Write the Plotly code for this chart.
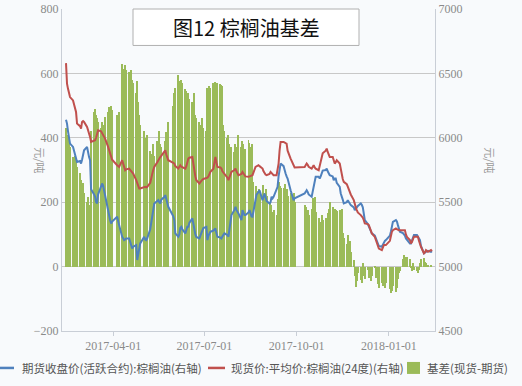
import pandas as pd
import plotly.graph_objects as go

# trading days (Mon-Fri); None = exchange holiday
dates = pd.bdate_range("2017-02-13", "2018-02-13")

futures = [
    6141, 6110, 6050, 5990, 5955,
    5929, 5900, 5870, 5840, 5813,
    5820, 5800, 5830, 5870, 5903,
    5929, 5880, 5850, 5826, 5600,
    5560, 5542, 5500, 5490, 5560,
    5619, 5645, 5630, 5590, 5542,
    5413, 5390, 5360, 5335, 5350,
    None, None, 5387, 5350, 5322,
    5232, 5220, 5206, 5210, 5219,
    5219, 5190, 5160, 5141, 5155,
    5167, 5051, 5100, 5150, 5180,
    None, 5232, 5210, 5206, 5220,
    5290, 5348, 5400, 5450, 5490,
    5510, 5516, 5500, 5490, 5520,
    5540, 5555, 5520, 5490, 5464,
    None, None, 5390, 5361, 5258,
    5232, 5250, 5300, 5309, 5290,
    5258, 5280, 5309, 5309, 5340,
    5374, 5330, 5283, 5250, 5230,
    5219, 5240, 5258, 5280, 5300,
    5309, 5206, 5240, 5260, 5271,
    5280, 5290, 5296, 5260, 5232,
    5225, 5219, 5235, 5250, 5258,
    5245, 5232, 5290, 5350, 5400,
    5440, 5464, 5440, 5420, 5413,
    5361, 5439, 5420, 5400, 5400,
    5420, 5439, 5410, 5390, 5387,
    5542, 5560, 5568, 5580, 5593,
    5516, 5540, 5568, 5540, 5510,
    5490, 5500, 5542, 5530, 5542,
    5600, 5619, 5700, 5750, 5800,
    5780, 5740, 5723, 5700, 5684,
    5593, 5560, 5540, 5516, 5530,
    None, None, None, None, None,
    5568, 5580, 5593, 5580, 5560,
    5542, 5580, 5619, 5650, 5697,
    5697, 5684, 5700, 5735, 5745,
    5750, 5761, 5740, 5720, 5710,
    5700, 5671, 5684, 5684, 5650,
    5619, 5568, 5550, 5520, 5490,
    5500, 5516, 5500, 5490, 5477,
    5460, 5439, 5450, 5464, 5470,
    5490, 5480, 5460, 5400, 5361,
    5330, 5309, 5290, 5270, 5258,
    5240, 5219, 5210, 5180, 5160,
    5154, 5170, 5193, 5200, 5206,
    None, 5240, 5271, 5320, 5348,
    5361, 5350, 5322, 5300, 5271,
    5260, 5250, 5240, 5219, 5210,
    5180, 5180, 5206, 5230, 5245,
    5245, 5230, 5210, 5206, 5160,
    5103, 5110, 5115, 5120, 5123,
    5115, 5120,
]

spot = [
    6580, 6420, 6380, 6340, 6316,
    6290, 6260, 6230, 6200, 6110,
    6090, 6071, 6123, 6130, 6123,
    6084, 6060, 6030, 6006, 5968,
    5975, 5981, 6000, 6040, 6058,
    6050, 6033, 6020, 6000, 5994,
    5929, 5900, 5870, 5851, 5830,
    None, None, 5787, 5780, 5774,
    5826, 5800, 5770, 5748, 5755,
    5761, 5750, 5740, 5730, 5723,
    5671, 5650, 5630, 5607, 5607,
    None, 5619, 5619, 5615, 5619,
    5650, 5697, 5720, 5750, 5774,
    5810, 5826, 5840, 5851, 5860,
    5890, 5903, 5870, 5840, 5826,
    None, None, 5805, 5800, 5780,
    5761, 5775, 5787, 5775, 5770,
    5761, 5780, 5810, 5839, 5845,
    5851, 5800, 5735, 5700, 5670,
    5645, 5655, 5671, 5675, 5680,
    5684, 5690, 5700, 5720, 5735,
    5760, 5800, 5851, 5810, 5774,
    5770, 5761, 5740, 5730, 5723,
    5690, 5671, 5690, 5710, 5735,
    5750, 5761, 5740, 5720, 5710,
    5720, 5735, 5723, 5710, 5700,
    5697, 5700, 5705, 5710, 5710,
    5774, 5780, 5787, 5787, 5780,
    5761, 5740, 5723, 5715, 5710,
    5720, 5735, 5725, 5715, 5710,
    5710, 5748, 5800, 5900, 5968,
    5968, 5960, 5958, 5955, 5900,
    5839, 5820, 5813, 5790, 5770,
    None, None, None, None, None,
    5774, 5790, 5800, 5790, 5775,
    5761, 5770, 5787, 5770, 5760,
    5748, 5780, 5830, 5864, 5880,
    5900, 5916, 5890, 5860, 5851,
    5851, 5820, 5800, 5810, 5826,
    5800, 5748, 5720, 5680, 5658,
    5640, 5620, 5600, 5593, 5560,
    5516, 5480, 5460, 5439, 5420,
    5400, 5390, 5380, 5360, 5335,
    5330, 5322, 5300, 5270, 5258,
    5230, 5206, 5190, 5160, 5140,
    5128, 5150, 5167, 5167, 5167,
    None, 5200, 5245, 5270, 5283,
    5296, 5290, 5283, 5283, 5283,
    5283, 5283, 5283, 5250, 5230,
    5206, 5180, 5190, 5210, 5232,
    5232, 5232, 5200, 5170, 5154,
    5103, 5110, 5128, 5120, 5115,
    5128, 5120,
]

basis = [
    430, 410, 380, 400, 370,
    340, 330, 345, 325, 310,
    290, 270, 250, 260, 230,
    200, 215, 185, 190, 420,
    480, 490, 470, 460, 448,
    430, 450, 420, 440, 465,
    480, 495, 470, 500, 485,
    None, None, 470, 460, 480,
    630, 615, 600, 625, 610,
    605, 590, 610, 580, 570,
    540, 575, 510, 470, 440,
    None, 420, 400, 380, 410,
    360, 350, 336, 380, 345,
    390, 360, 420, 380, 370,
    350, 390, 417, 400, 450,
    None, None, 500, 540, 555,
    594, 575, 560, 580, 570,
    553, 545, 530, 540, 520,
    510, 480, 540, 470, 460,
    450, 420, 440, 460, 430,
    420, 556, 553, 560, 555,
    570, 565, 572, 563, 570,
    568, 565, 560, 440, 420,
    400, 410, 380, 360, 370,
    355, 380, 360, 370, 410,
    370, 390, 380, 355, 365,
    392, 385, 370, 380, 262,
    250, 235, 222, 240, 230,
    253, 230, 213, 240, 220,
    200, 190, 170, 150, 175,
    160, 210, 262, 250, 243,
    245, 255, 235, 240, 220,
    230, 215, 205, 230, 200,
    None, None, None, None, None,
    190, 185, 170, 175, 160,
    180, 212, 200, 216, 170,
    150, 140, 129, 160, 145,
    150, 135, 165, 180, 200,
    185, 170, 180, 175, 172,
    175, 165, 180, 104, 90,
    70, 98, 57, 80, 45,
    20, -30, -63, -45, -20,
    -42, -51, 11, -30, -40,
    -10, -35, -20, -45, -30,
    -4, -35, -26, -55, -66,
    -50, -60, -40, -66, -51,
    None, -70, -82, -75, -60,
    -78, -66, -40, -20, -15,
    25, 35, 30, 20, 30,
    25, -5, -15, 10, -10,
    -15, -20, -10, 10, 25,
    27, 15, 10, 5, 3,
    5, 0,
]

x_ticks = ["2017-04-01", "2017-07-01", "2017-10-01", "2018-01-01"]
legend_names = ["期货收盘价(活跃合约):棕榈油(右轴)", "现货价:平均价:棕榈油(24度)(右轴)", "基差(现货-期货)"]
title_text = "图12 棕榈油基差"

BLUE = "#4f81bd"
RED = "#c0504d"
GREEN = "#9bbb59"

fig = go.Figure()
fig.add_trace(go.Bar(x=dates, y=basis, marker=dict(color=GREEN, line=dict(width=0)),
                     name=legend_names[2], showlegend=False, yaxis="y"))
fig.add_trace(go.Scatter(x=dates, y=futures, mode="lines", line=dict(color=BLUE, width=2),
                         connectgaps=True, name=legend_names[0], showlegend=False, yaxis="y2"))
fig.add_trace(go.Scatter(x=dates, y=spot, mode="lines", line=dict(color=RED, width=2),
                         connectgaps=True, name=legend_names[1], showlegend=False, yaxis="y2"))

W, H = 522, 386
L, R, T, B = 62, 435, 8.5, 331
def px(x):
    return (x - L) / (R - L)
def py(y):
    return (B - y) / (B - T)

tickfont = dict(family="Liberation Serif, DejaVu Serif, serif", size=12, color="#8a8a8a")
fig.update_layout(
    width=W, height=H,
    margin=dict(l=L, r=W - R, t=T, b=H - B, autoexpand=False),
    paper_bgcolor="#f8fafc", plot_bgcolor="#f8fafc",
    bargap=0,
    showlegend=False,
    xaxis=dict(type="date", range=["2017-02-09", "2018-02-16"], automargin=False,
               tickvals=x_ticks, ticktext=x_ticks, tickfont=tickfont,
               showgrid=False, showline=True, linecolor="#c9ced6", linewidth=1,
               ticks="outside", ticklen=4, tickcolor="#c9ced6", zeroline=False),
    yaxis=dict(range=[-200, 800], dtick=200, tickfont=tickfont, automargin=False,
               showgrid=True, gridcolor="#c8c8c8", gridwidth=1,
               showline=True, linecolor="#c9ced6", zeroline=False, ticks=""),
    yaxis2=dict(range=[4500, 7000], dtick=500, tickfont=tickfont, overlaying="y", side="right",
                automargin=False,
                showgrid=False, showline=True, linecolor="#c9ced6", zeroline=False, ticks=""),
    font=dict(family="Noto Sans CJK SC"),
)

shapes = []
annotations = []
# title box
shapes.append(dict(type="rect", xref="paper", yref="paper", x0=px(133), x1=px(359), y0=py(45), y1=py(8.5),
                   fillcolor="#ffffff", line=dict(color="#b0b0b0", width=1), layer="above"))
annotations.append(dict(text=title_text, xref="paper", yref="paper", x=px(246), y=py(27), showarrow=False,
                        xanchor="center", yanchor="middle",
                        font=dict(family="Noto Sans CJK SC", size=20, color="#111111")))
# axis unit labels
for xx in (40, 490):
    annotations.append(dict(text="元/吨", xref="paper", yref="paper", x=px(xx), y=py(160), showarrow=False,
                            textangle=90, xanchor="center", yanchor="middle",
                            font=dict(family="Noto Sans CJK SC", size=11, color="#999999")))
# legend
ly = py(368)
shapes.append(dict(type="line", xref="paper", yref="paper", x0=px(-2), x1=px(14), y0=ly, y1=ly,
                   line=dict(color=BLUE, width=2.5)))
shapes.append(dict(type="line", xref="paper", yref="paper", x0=px(208), x1=px(225), y0=ly, y1=ly,
                   line=dict(color=RED, width=2.5)))
shapes.append(dict(type="rect", xref="paper", yref="paper", x0=px(407), x1=px(420), y0=py(374), y1=py(362),
                   fillcolor=GREEN, line=dict(width=0)))
for xx, txt in ((20, legend_names[0]), (229, legend_names[1]), (425, legend_names[2])):
    annotations.append(dict(text=txt, xref="paper", yref="paper", x=px(xx), y=ly, showarrow=False,
                            xanchor="left", yanchor="middle",
                            font=dict(family="Noto Sans CJK SC", size=11.5, color="#555555")))
fig.update_layout(shapes=shapes, annotations=annotations)

fig.write_html("out.html", config={"displayModeBar": False},
               post_script="document.body.style.margin='0';document.body.style.overflow='hidden';")
